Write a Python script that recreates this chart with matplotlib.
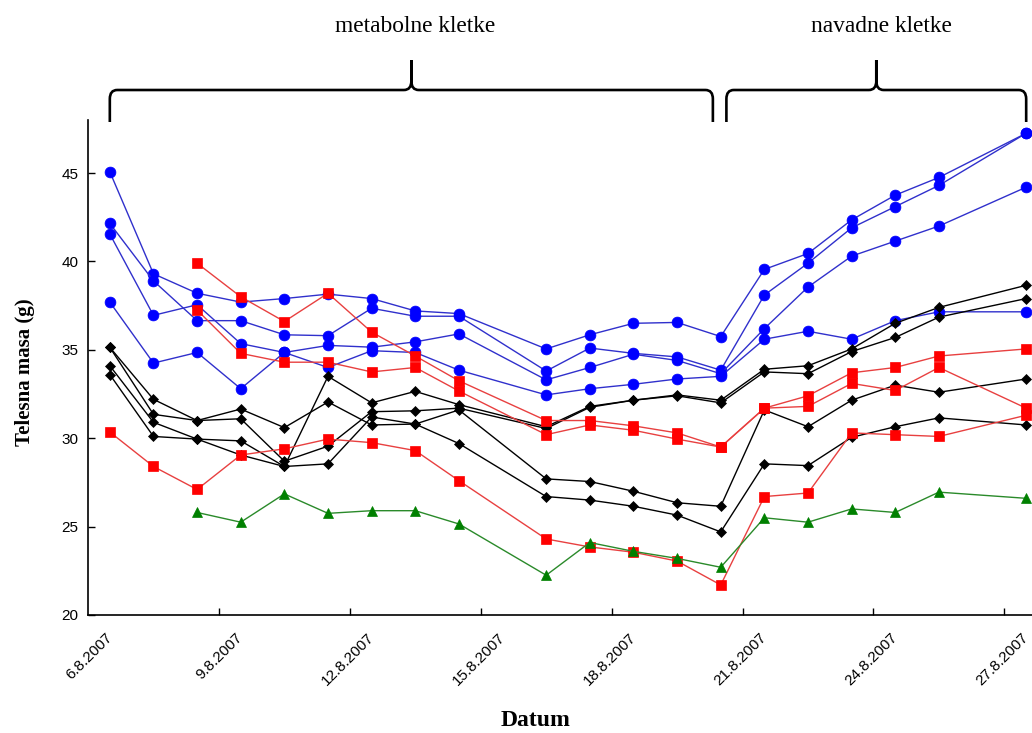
import matplotlib
matplotlib.use('Agg')
import matplotlib.pyplot as plt
import numpy as np
from matplotlib.path import Path
from matplotlib.patches import PathPatch
import matplotlib.transforms as mtransforms

# ---------------- data ----------------
days = [6, 7, 8, 9, 10, 11, 12, 13, 14, 16, 17, 18, 19, 20, 21, 22, 23, 24, 25, 27]
tick_days = [6, 9, 12, 15, 18, 21, 24, 27]
tick_labels = ['6.8.2007', '9.8.2007', '12.8.2007', '15.8.2007',
               '18.8.2007', '21.8.2007', '24.8.2007', '27.8.2007']
y_ticks = [20, 25, 30, 35, 40, 45]

nan = np.nan
blue_a = [45.07, 39.3, 38.2, 37.7, 37.9, 38.15, 37.9, 37.2, 37.05, 35.05, 35.85, 36.5, 36.55, 35.75, 39.55, 40.45, 42.35, 43.75, 44.75, 47.25]
blue_b = [42.15, 38.9, 36.65, 36.65, 35.85, 35.8, 37.35, 36.9, 36.9, 33.8, 35.1, 34.8, 34.6, 33.85, 38.1, 39.9, 41.9, 43.1, 44.3, 47.25]
blue_c = [41.55, 36.95, 37.55, 35.35, 34.85, 34.0, 34.95, 34.85, 33.85, 32.45, 32.8, 33.05, 33.35, 33.5, 35.6, 36.05, 35.6, 36.65, 37.15, 37.15]
blue_d = [37.7, 34.25, 34.85, 32.8, 34.85, 35.25, 35.15, 35.45, 35.9, 33.3, 34.0, 34.75, 34.4, 33.65, 36.2, 38.55, 40.3, 41.15, 42.0, 44.2]

black_a = [34.1, 30.9, 29.95, 29.85, 28.4, 33.5, 32.0, 32.65, 31.9, 30.65, 31.8, 32.15, 32.45, 32.15, 33.9, 34.1, 35.05, 36.5, 37.4, 38.65]
black_b = [35.14, 31.35, 31.0, 31.1, 28.7, 29.55, 31.5, 31.55, 31.7, 30.55, 31.75, 32.15, 32.4, 32.0, 33.75, 33.65, 34.9, 35.7, 36.85, 37.9]
black_c = [35.14, 32.2, 31.0, 31.65, 30.6, 32.05, 30.75, 30.8, 31.6, 27.7, 27.55, 27.0, 26.35, 26.15, 31.6, 30.65, 32.15, 33.0, 32.6, 33.35]
black_d = [33.6, 30.1, 29.95, 29.05, 28.4, 28.55, 31.2, 30.8, 29.7, 26.7, 26.5, 26.15, 25.65, 24.7, 28.55, 28.45, 30.05, 30.65, 31.15, 30.75]

red_a = [30.35, 28.4, 27.1, 29.05, 29.4, 29.95, 29.75, 29.3, 27.6, 24.3, 23.85, 23.55, 23.05, 21.7, 26.7, 26.9, 30.3, 30.2, 30.1, 31.3]
red_b = [nan, nan, 39.9, 38.0, 36.6, 38.2, 36.0, 34.65, 33.25, 31.0, 31.0, 30.7, 30.3, 29.5, 31.7, 32.4, 33.7, 34.0, 34.65, 35.05]
red_c = [nan, nan, 37.25, 34.8, 34.3, 34.3, 33.75, 34.0, 32.67, 30.2, 30.75, 30.45, 29.95, 29.5, 31.7, 31.8, 33.1, 32.7, 34.0, 31.7]

green_a = [nan, nan, 25.8, 25.25, 26.85, 25.75, 25.9, 25.9, 25.15, 22.25, 24.1, 23.6, 23.2, 22.7, 25.5, 25.25, 26.0, 25.8, 26.95, 26.6]

group_labels = ['metabolne kletke', 'navadne kletke']

# ---------------- figure ----------------
W, H = 1032, 733
fig = plt.figure(figsize=(W / 100, H / 100), dpi=100)
ax = fig.add_axes([88 / W, 118 / H, 960 / W, 495 / H])

x = np.array(days, dtype=float)

def draw(series, line_color, marker, mcolor, ms):
    for s in series:
        y = np.array(s, dtype=float)
        m = ~np.isnan(y)
        ax.plot(x[m], y[m], color=line_color, lw=1.0, marker=marker, ms=ms,
                markerfacecolor=mcolor, markeredgecolor=mcolor, markeredgewidth=0.5,
                clip_on=False)

draw([blue_a, blue_b, blue_c, blue_d], '#3030cc', 'o', '#0000ff', 7.8)
draw([black_a, black_b, black_c, black_d], '#000000', 'D', '#000000', 4.8)
draw([red_a, red_b, red_c], '#e84040', 's', '#ff0000', 7.0)
draw([green_a], '#2a8a2a', '^', '#008000', 7.2)

ax.set_xlim(5.5, 27.5)
ax.set_ylim(20, 48)

for sp in ['top', 'right']:
    ax.spines[sp].set_visible(False)
for sp in ['left', 'bottom']:
    ax.spines[sp].set_linewidth(1.2)
    ax.spines[sp].set_color('black')

ax.set_yticks(y_ticks)
ax.set_yticklabels([str(v) for v in y_ticks])
ax.tick_params(axis='y', direction='in', length=5, width=1, pad=7,
               labelsize=11)
for t in ax.get_yticklabels():
    t.set_fontfamily('Liberation Sans')

ax.set_xticks(tick_days)
ax.set_xticklabels(tick_labels, rotation=45, ha='right', va='top',
                   rotation_mode='anchor', fontsize=11, family='Liberation Sans')
ax.tick_params(axis='x', which='major', length=0, pad=11)
shift = mtransforms.ScaledTranslation(-5 / 100, 0, fig.dpi_scale_trans)
for t in ax.get_xticklabels():
    t.set_transform(t.get_transform() + shift)
ax.set_xticks([d + 2.5 for d in tick_days[:-1]], minor=True)
ax.tick_params(axis='x', which='minor', direction='in', length=5, width=1)

# ---------------- braces ----------------
trans = mtransforms.blended_transform_factory(ax.transData, ax.transAxes)

def brace(x0, x1, yb, yh, yt, rx, ry):
    xm = (x0 + x1) / 2
    verts = [(x0, yb), (x0, yh - ry), (x0, yh), (x0 + rx, yh),
             (xm - rx, yh), (xm, yh), (xm, yh + ry), (xm, yt),
             (xm, yh + ry), (xm, yh), (xm + rx, yh),
             (x1 - rx, yh), (x1, yh), (x1, yh - ry), (x1, yb)]
    codes = [Path.MOVETO, Path.LINETO, Path.CURVE3, Path.CURVE3,
             Path.LINETO, Path.CURVE3, Path.CURVE3, Path.LINETO,
             Path.LINETO, Path.CURVE3, Path.CURVE3,
             Path.LINETO, Path.CURVE3, Path.CURVE3, Path.LINETO]
    p = PathPatch(Path(verts, codes), transform=trans, fill=False,
                  lw=1.9, edgecolor='black', clip_on=False, capstyle='butt')
    ax.add_patch(p)
    return xm

yb, yh, yt = (615 - 122) / 495, (615 - 90) / 495, (615 - 60) / 495
rx, ry = 0.17, 0.018
m1 = brace(6.0, 19.82, yb, yh, yt, rx, ry)
m2 = brace(20.13, 27.0, yb, yh, yt, rx, ry)

ty = (615 - 26) / 495
ax.text(m1 + 0.08, ty, group_labels[0], transform=trans, ha='center', va='center',
        fontsize=16.8, family='Liberation Serif')
ax.text(m2 + 0.12, ty, group_labels[1], transform=trans, ha='center', va='center',
        fontsize=16.8, family='Liberation Serif')

fig.text(536 / W, 1 - 721 / H, 'Datum', ha='center', va='center', fontsize=17,
         fontweight='bold', family='Liberation Serif')
fig.text(25 / W, 1 - 372 / H, 'Telesna masa (g)', ha='center', va='center',
         rotation=90, fontsize=15, fontweight='bold', family='Liberation Serif')

fig.savefig('out.png', dpi=100)
